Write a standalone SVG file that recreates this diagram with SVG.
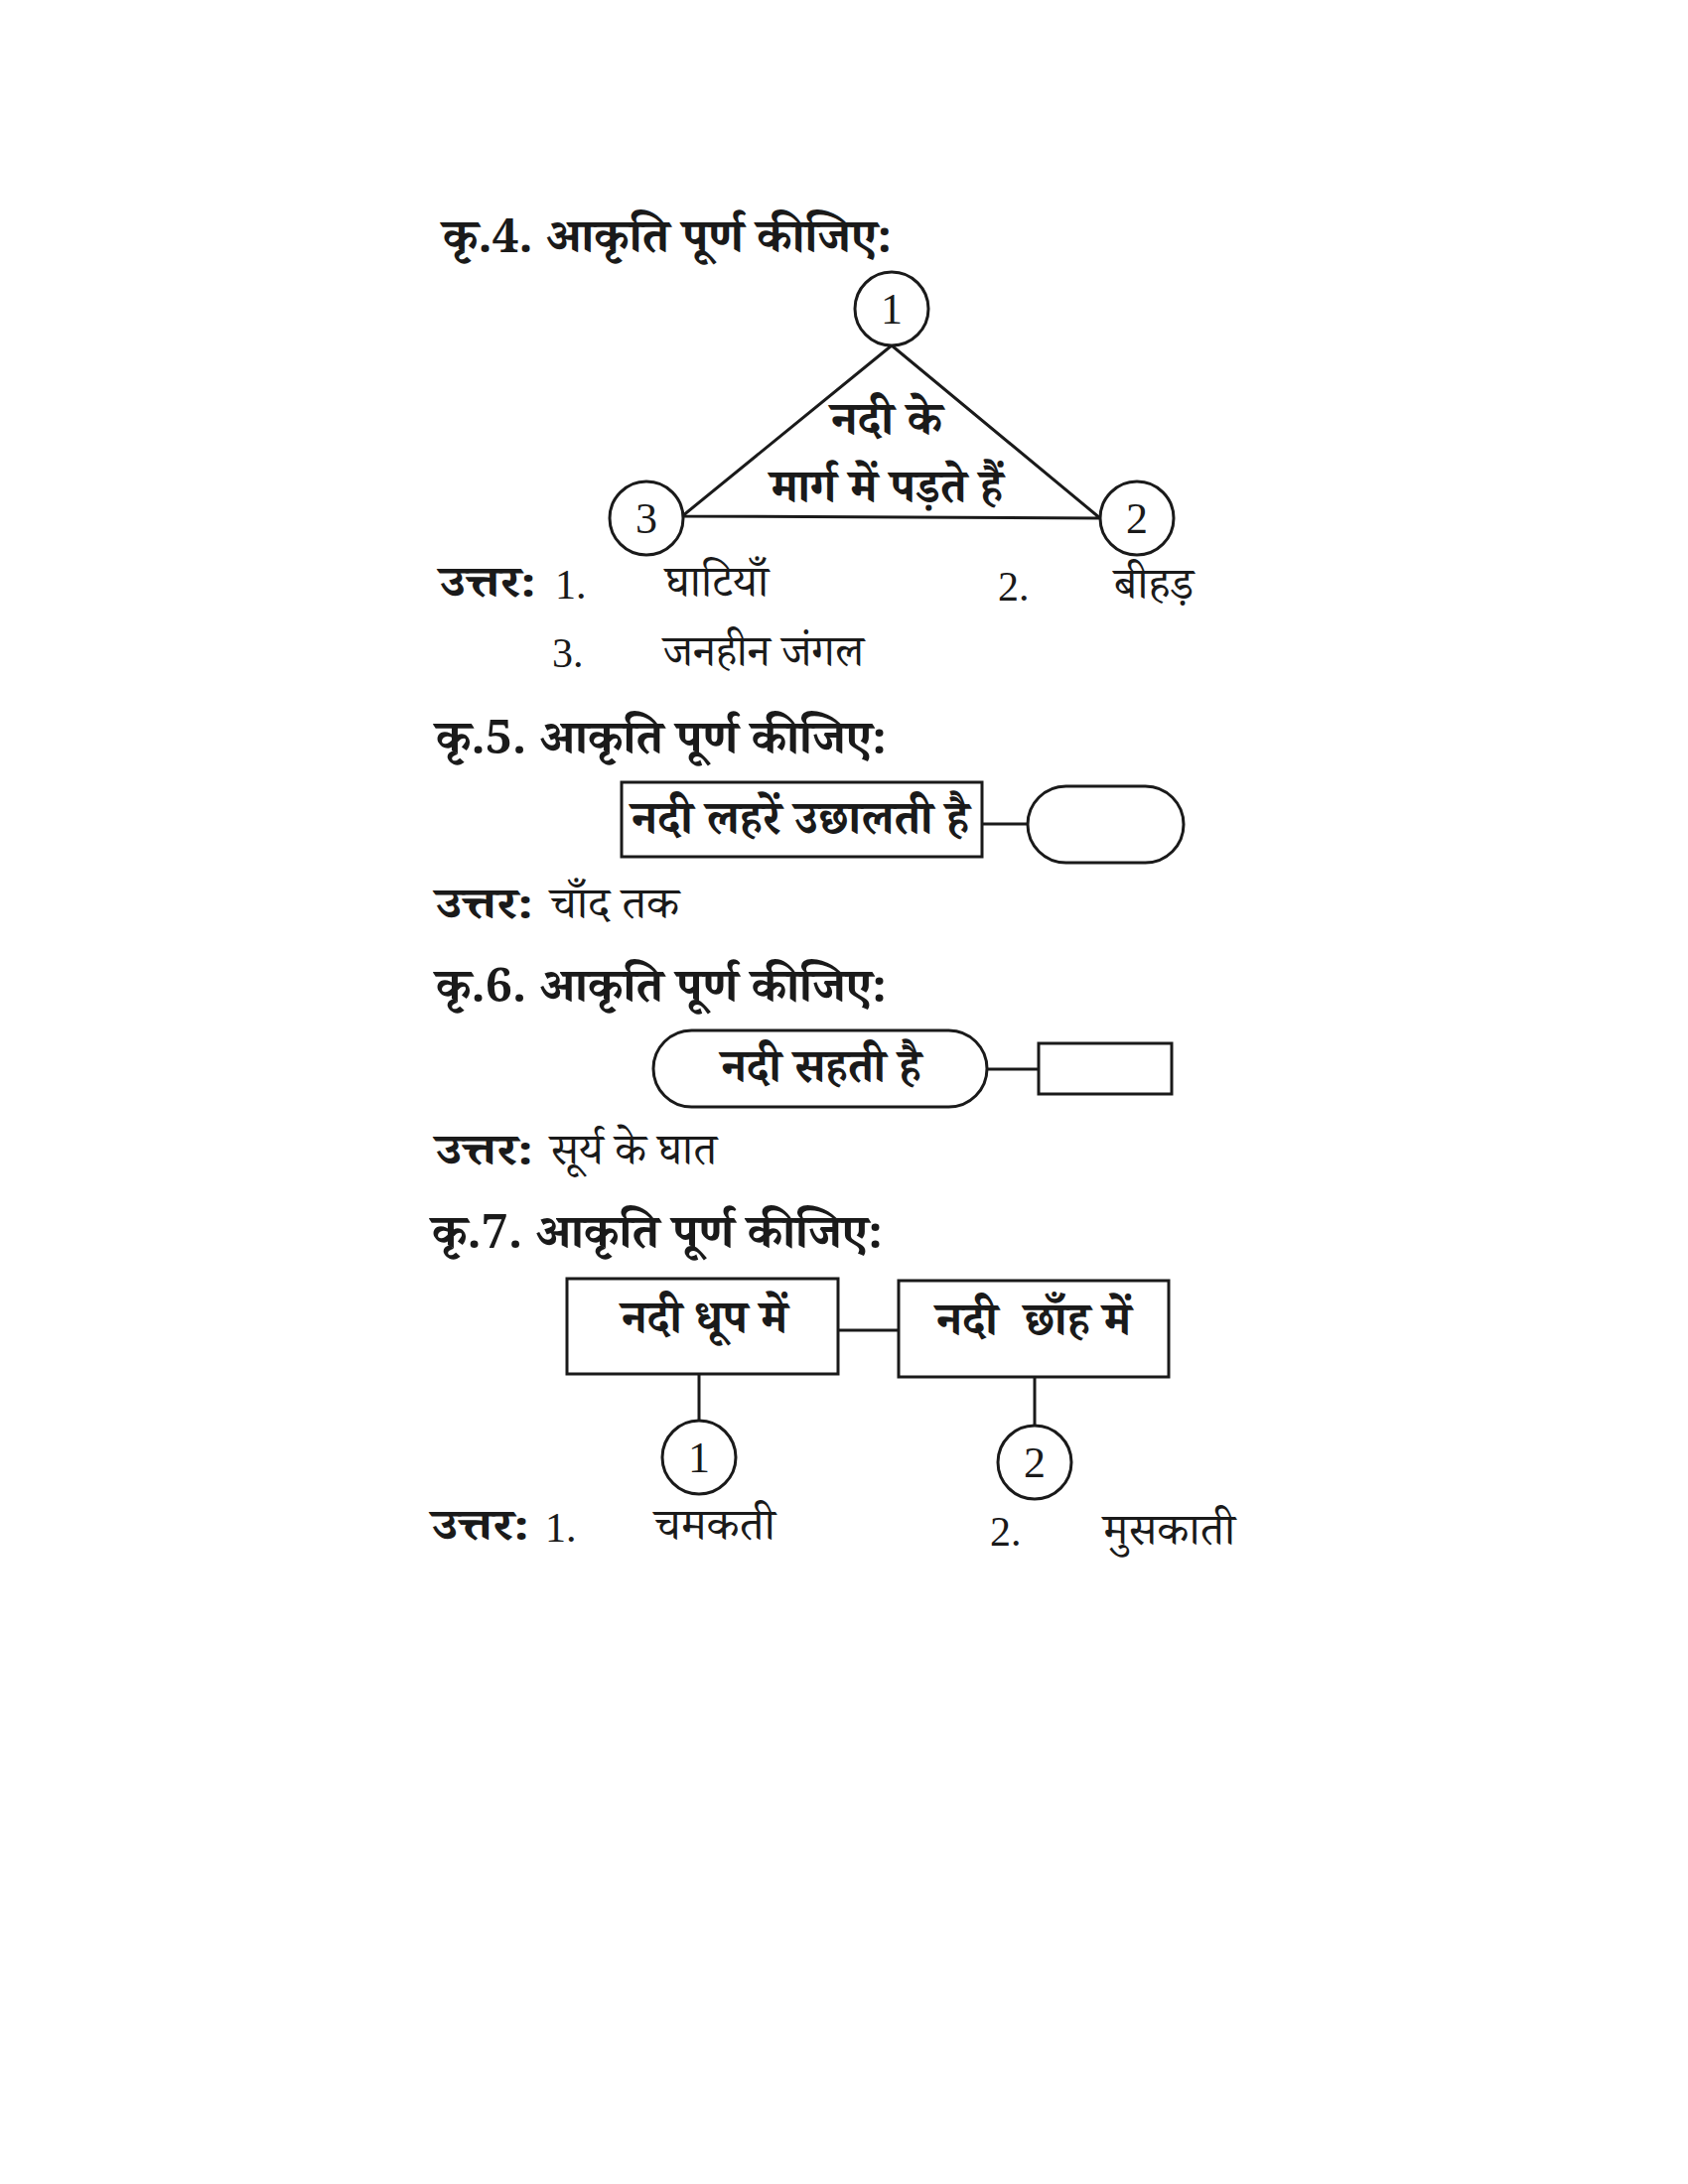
<svg xmlns="http://www.w3.org/2000/svg" width="1700" height="2200" viewBox="0 0 1700 2200">
<style>
.bg{fill:#ffffff}
.ln{stroke:#1a1a1a;stroke-width:3;fill:none}
.sh{stroke:#1a1a1a;stroke-width:3;fill:#ffffff}
.t{font-family:"Noto Serif Devanagari","Noto Sans Devanagari","Lohit Devanagari","Liberation Serif","Noto Sans",serif;fill:#1a1a1a}
.b{font-weight:bold}
.h{font-size:48px;font-weight:bold}
.bx{font-size:48px;font-weight:bold}
.n{font-family:"Liberation Serif",serif;fill:#1a1a1a;font-size:42px}
.nc{font-family:"Liberation Serif",serif;fill:#1a1a1a;font-size:44px;text-anchor:middle}
.c{text-anchor:middle}
.a{font-size:44px}
</style>
<rect class="bg" x="0" y="0" width="1700" height="2200"/>

<g id="connectors">
  <polygon class="ln" points="898,348 687,520 1108,522"/>
  <line class="ln" x1="989" y1="830" x2="1035" y2="830"/>
  <line class="ln" x1="994" y1="1077" x2="1046" y2="1077"/>
  <line class="ln" x1="844" y1="1340" x2="905" y2="1340"/>
  <line class="ln" x1="704" y1="1384" x2="704" y2="1431"/>
  <line class="ln" x1="1042" y1="1387" x2="1042" y2="1436"/>
</g>

<g id="q4">
  <text class="t h" x="446" y="254" textLength="452" lengthAdjust="spacingAndGlyphs">कृ.4. आकृति पूर्ण कीजिए:</text>
  <g id="q4-center">
    <text class="t bx c" x="893" y="438" textLength="112" lengthAdjust="spacingAndGlyphs">नदी के</text>
    <text class="t bx c" x="893" y="506" textLength="234" lengthAdjust="spacingAndGlyphs">मार्ग में पड़ते हैं</text>
  </g>
  <g id="q4-c1"><circle class="sh" cx="898" cy="311" r="37"/><text class="nc" x="898" y="326">1</text></g>
  <g id="q4-c2"><circle class="sh" cx="1145" cy="522" r="37"/><text class="nc" x="1145" y="537">2</text></g>
  <g id="q4-c3"><circle class="sh" cx="651" cy="522" r="37"/><text class="nc" x="651" y="537">3</text></g>
  <g id="q4-ans">
    <text class="t b a" x="443" y="601" textLength="97" lengthAdjust="spacingAndGlyphs">उत्तर:</text>
    <text class="n" x="559" y="603">1.</text>
    <text class="t a" x="670" y="601" textLength="104" lengthAdjust="spacingAndGlyphs">घाटियाँ</text>
    <text class="n" x="1005" y="605">2.</text>
    <text class="t a" x="1122" y="603" textLength="80" lengthAdjust="spacingAndGlyphs">बीहड़</text>
    <text class="n" x="556" y="672">3.</text>
    <text class="t a" x="668" y="671" textLength="202" lengthAdjust="spacingAndGlyphs">जनहीन जंगल</text>
  </g>
</g>

<g id="q5">
  <text class="t h" x="439" y="759" textLength="454" lengthAdjust="spacingAndGlyphs">कृ.5. आकृति पूर्ण कीजिए:</text>
  <g id="q5-box"><rect class="sh" x="626" y="788" width="363" height="75"/><text class="t bx" x="636" y="840" textLength="340" lengthAdjust="spacingAndGlyphs">नदी लहरें उछालती है</text></g>
  <g id="q5-oval"><rect class="sh" x="1035" y="792" width="157" height="77" rx="38.5" ry="38.5"/></g>
  <text class="t b a" x="439" y="925" textLength="98" lengthAdjust="spacingAndGlyphs">उत्तर:</text>
  <text class="t a" x="554" y="925" textLength="130" lengthAdjust="spacingAndGlyphs">चाँद तक</text>
</g>

<g id="q6">
  <text class="t h" x="439" y="1009" textLength="454" lengthAdjust="spacingAndGlyphs">कृ.6. आकृति पूर्ण कीजिए:</text>
  <g id="q6-oval"><rect class="sh" x="658" y="1038" width="336" height="77" rx="38.5" ry="38.5"/><text class="t bx c" x="827" y="1090" textLength="201" lengthAdjust="spacingAndGlyphs">नदी सहती है</text></g>
  <g id="q6-box"><rect class="sh" x="1046" y="1051" width="134" height="51"/></g>
  <text class="t b a" x="439" y="1173" textLength="98" lengthAdjust="spacingAndGlyphs">उत्तर:</text>
  <text class="t a" x="554" y="1173" textLength="168" lengthAdjust="spacingAndGlyphs">सूर्य के घात</text>
</g>

<g id="q7">
  <text class="t h" x="435" y="1257" textLength="454" lengthAdjust="spacingAndGlyphs">कृ.7. आकृति पूर्ण कीजिए:</text>
  <g id="q7-box1"><rect class="sh" x="571" y="1288" width="273" height="96"/><text class="t bx" x="626" y="1343" textLength="167" lengthAdjust="spacingAndGlyphs">नदी धूप में</text></g>
  <g id="q7-box2"><rect class="sh" x="905" y="1290" width="272" height="97"/><text class="t bx" x="943" y="1345" textLength="196" lengthAdjust="spacingAndGlyphs" xml:space="preserve" style="white-space:pre">नदी  छाँह में</text></g>
  <g id="q7-c1"><circle class="sh" cx="704" cy="1468" r="37"/><text class="nc" x="704" y="1483">1</text></g>
  <g id="q7-c2"><circle class="sh" cx="1042" cy="1473" r="37"/><text class="nc" x="1042" y="1488">2</text></g>
  <g id="q7-ans">
    <text class="t b a" x="435" y="1551" textLength="98" lengthAdjust="spacingAndGlyphs">उत्तर:</text>
    <text class="n" x="549" y="1553">1.</text>
    <text class="t a" x="659" y="1551" textLength="122" lengthAdjust="spacingAndGlyphs">चमकती</text>
    <text class="n" x="997" y="1557">2.</text>
    <text class="t a" x="1111" y="1556" textLength="133" lengthAdjust="spacingAndGlyphs">मुसकाती</text>
  </g>
</g>
</svg>
